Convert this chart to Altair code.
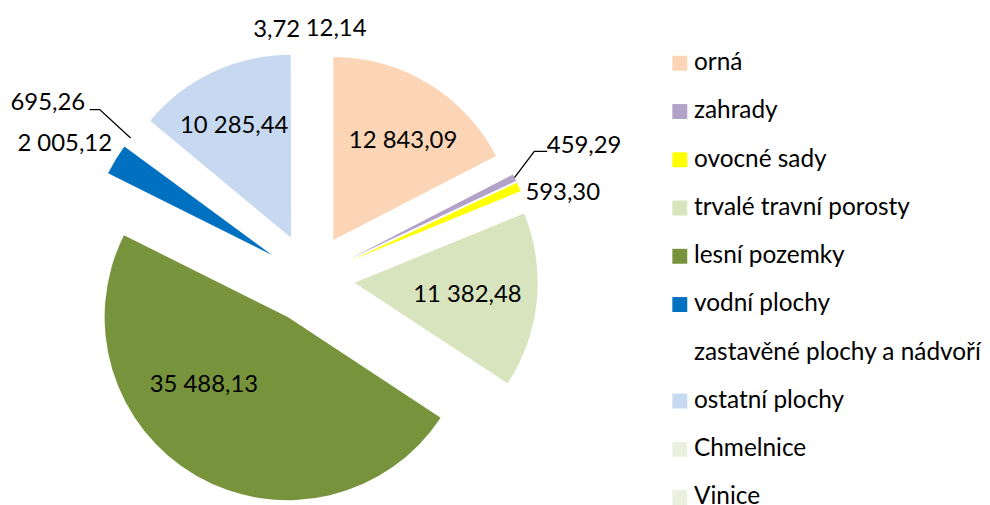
import math
import altair as alt
import pandas as pd

# ---- data ----
categories = ["orná", "zahrady", "ovocné sady", "trvalé travní porosty", "lesní pozemky",
              "vodní plochy", "zastavěné plochy a nádvoří", "ostatní plochy", "Chmelnice", "Vinice"]
values = [12843.09, 459.29, 593.30, 11382.48, 35488.13, 2005.12, 695.26, 10285.44, 3.72, 12.14]
labels = ["12 843,09", "459,29", "593,30", "11 382,48", "35 488,13", "2 005,12", "695,26",
          "10 285,44", "3,72", "12,14"]
colors = ["#FBD5B5", "#B3A2C7", "#FFFF00", "#D7E4BD", "#77933C", "#0070C0", "#FFFFFF",
          "#C6D9F1", "#EBF1DE", "#EBF1DE"]

# ---- layout (pixels / degrees) ----
CX, CY = 303.6, 270.4      # pie centre
EXPLODE = 45               # explosion distance of each slice
R = 184                    # pie radius
label_r = [167, 306, 268, 159, 151, 281, 317, 171, 252, 252]
label_shift = [2.7, 0.4, 5.0, 0.4, 15, -2.8, -4.3, -1.3, -7.6, 6.0]
# leader lines: category -> (elbow radius, elbow angle shift, horizontal run)
leaders = {"zahrady": (259, -3.3, 13), "zastavěné plochy a nádvoří": (271, 0.7, -10)}

total = sum(values)
rows, cum = [], 0.0
for i, (c, v, lab) in enumerate(zip(categories, values, labels)):
    mid = (cum + v / 2) / total * 2 * math.pi
    cum += v
    la = mid + math.radians(label_shift[i])
    rows.append(dict(
        idx=i, cat=c, value=v, label=lab,
        ox=CX + EXPLODE * math.sin(mid), oy=CY - EXPLODE * math.cos(mid),
        lx=CX + label_r[i] * math.sin(la), ly=CY - label_r[i] * math.cos(la),
        mid=mid,
    ))
df = pd.DataFrame(rows)

lead_rows = []
for r in rows:
    if r["cat"] in leaders:
        er, sh, run = leaders[r["cat"]]
        m = r["mid"]
        p0 = (CX + (EXPLODE + R) * math.sin(m), CY - (EXPLODE + R) * math.cos(m))
        a = m + math.radians(sh)
        p1 = (CX + er * math.sin(a), CY - er * math.cos(a))
        p2 = (p1[0] + run, p1[1])
        for k, p in enumerate([p0, p1, p2]):
            lead_rows.append(dict(cat=r["cat"], k=k, x=p[0], y=p[1]))
leaders_df = pd.DataFrame(lead_rows)

FONT = "Lato"

arcs = alt.Chart(df).mark_arc(outerRadius=R, stroke=None).encode(
    theta=alt.Theta("value:Q", stack=True),
    order=alt.Order("idx:Q"),
    x=alt.X("ox:Q", scale=None),
    y=alt.Y("oy:Q", scale=None),
    color=alt.Color(
        "cat:N",
        scale=alt.Scale(domain=categories, range=colors),
        legend=alt.Legend(
            orient="none", legendX=663, legendY=42, title=None,
            symbolType="square", symbolSize=225, symbolStrokeWidth=0,
            labelFont=FONT, labelFontSize=24.5, labelColor="black",
            rowPadding=23.5, labelOffset=2, padding=0, labelLimit=400,
        ),
    ),
)

texts = alt.Chart(df).mark_text(font=FONT, fontSize=24, color="black",
                                align="center", baseline="middle").encode(
    x=alt.X("lx:Q", scale=None),
    y=alt.Y("ly:Q", scale=None),
    text="label:N",
)

lines = alt.Chart(leaders_df).mark_line(color="black", strokeWidth=1.3).encode(
    x=alt.X("x:Q", scale=None),
    y=alt.Y("y:Q", scale=None),
    detail="cat:N",
    order="k:Q",
)

chart = alt.layer(arcs, lines, texts).properties(
    width=974, height=489, padding=0, background="white"
).configure_view(stroke=None)

chart.save("out.html", embed_options={"renderer": "svg", "actions": False})
